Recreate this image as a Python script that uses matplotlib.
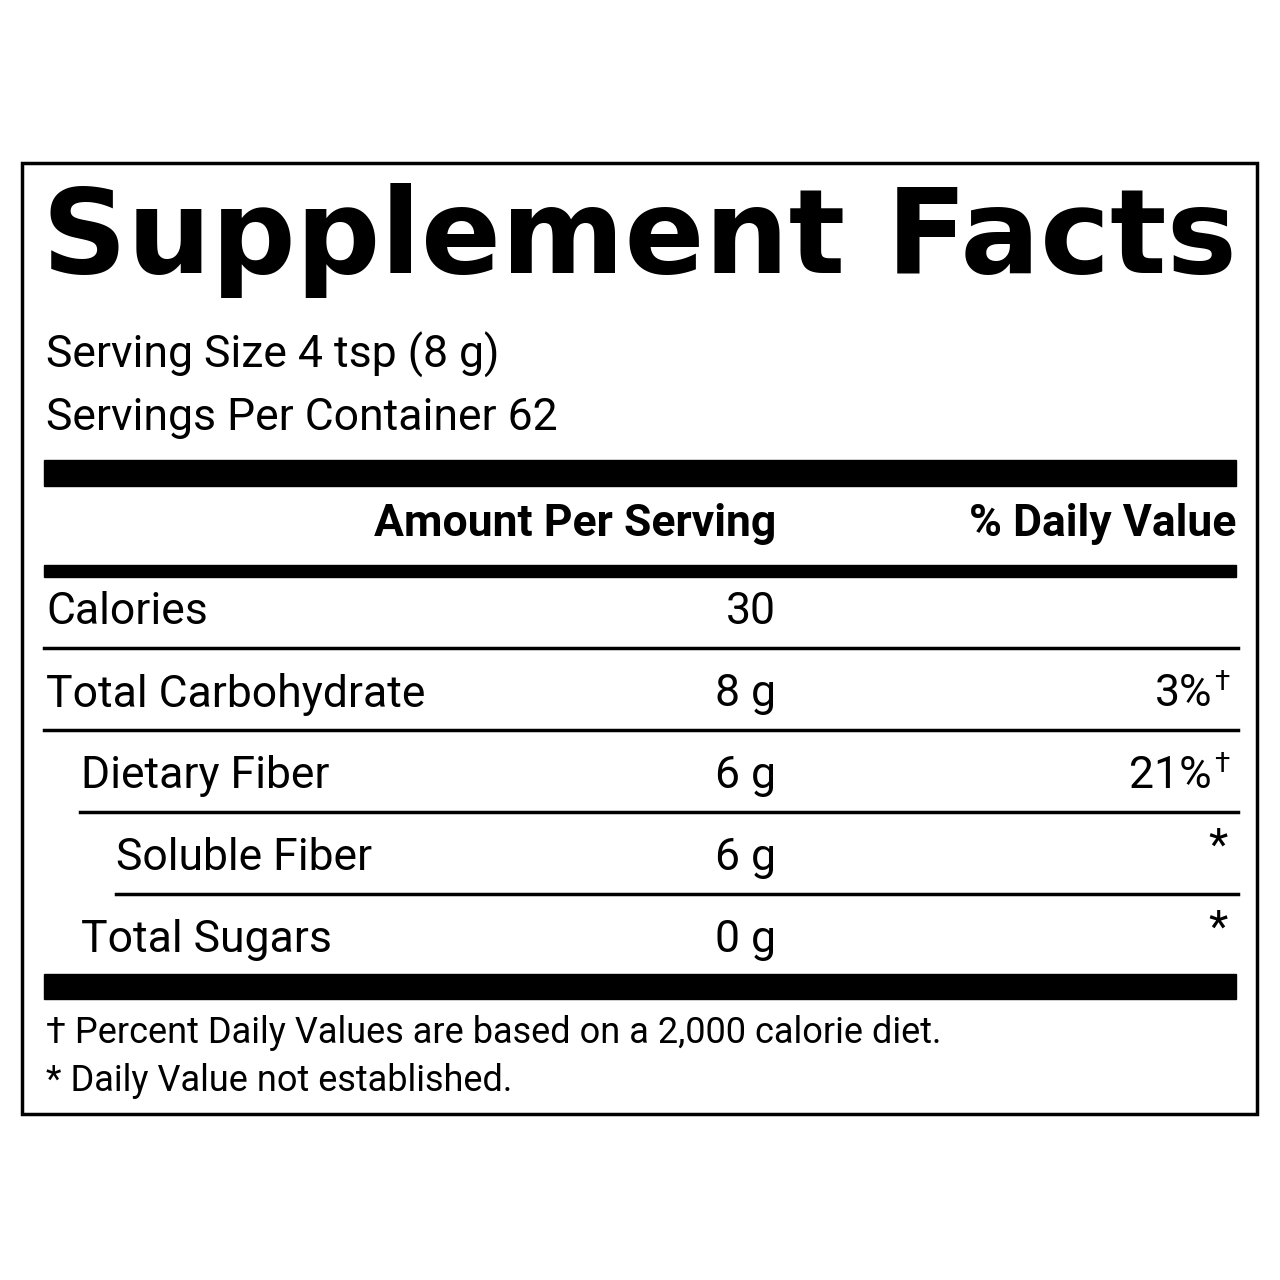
import matplotlib
matplotlib.use("Agg")
import matplotlib.pyplot as plt
from matplotlib.patches import Rectangle

title = "Supplement Facts"
serving = ["Serving Size 4 tsp (8 g)", "Servings Per Container 62"]
names = ["Calories", "Total Carbohydrate", "Dietary Fiber", "Soluble Fiber", "Total Sugars"]
indent = [0, 0, 1, 2, 1]
amounts = ["30", "8 g", "6 g", "6 g", "0 g"]
dvs = ["", "3%", "21%", "*", "*"]
dv_marks = ["", "\u2020", "\u2020", "", ""]
footnotes = ["\u2020 Percent Daily Values are based on a 2,000 calorie diet.",
             "* Daily Value not established."]

fig = plt.figure(figsize=(12.8, 12.8), dpi=100)
ax = fig.add_axes([0, 0, 1, 1])
ax.set_xlim(0, 1280); ax.set_ylim(1280, 0); ax.axis("off")
F = "Roboto"

ax.add_patch(Rectangle((22, 163), 1235, 951, fill=False, lw=2.5, ec="black"))
t = ax.text(640, 240, title, ha="center", va="center", fontsize=84, fontweight="bold",
            family="DejaVu Sans")
for i, s in enumerate(serving):
    ax.text(46, 355 + 63 * i, s, va="center", fontsize=32, family=F)
ax.add_patch(Rectangle((44, 460), 1192, 26, color="black"))
ax.text(776, 524, "Amount Per Serving", ha="right", va="center", fontsize=32, fontweight="bold", family=F)
ax.text(1236, 524, "% Daily Value", ha="right", va="center", fontsize=32, fontweight="bold", family=F)
ax.add_patch(Rectangle((44, 565), 1192, 12, color="black"))
row_y = 612
for i, (n, ind, a, d, m) in enumerate(zip(names, indent, amounts, dvs, dv_marks)):
    y = row_y + 82 * i
    ax.text(46 + 35 * ind, y, n, va="center", fontsize=32, family=F)
    ax.text(776, y, a, ha="right", va="center", fontsize=32, family=F)
    if d == "*":
        ax.text(1228, y - 10, d, ha="right", va="center", fontsize=32, family=F)
    elif d:
        ax.text(1212, y, d, ha="right", va="center", fontsize=32, family=F)
        ax.text(1214, y - 12, m, ha="left", va="center", fontsize=20, family=F)
    if i < len(names) - 1:
        x0 = 44 + 36 * ind if i >= 2 else 44
        ax.plot([x0, 1238], [y + 36, y + 36], color="black", lw=2.5)
ax.add_patch(Rectangle((44, 974), 1192, 25, color="black"))
for i, s in enumerate(footnotes):
    ax.text(46, 1033 + 48 * i, s, va="center", fontsize=26, family=F)

fig.canvas.draw()
bb = t.get_window_extent()
t.set_fontsize(84 * 1195 / bb.width)
fig.savefig("out.png", dpi=100, facecolor="white")
